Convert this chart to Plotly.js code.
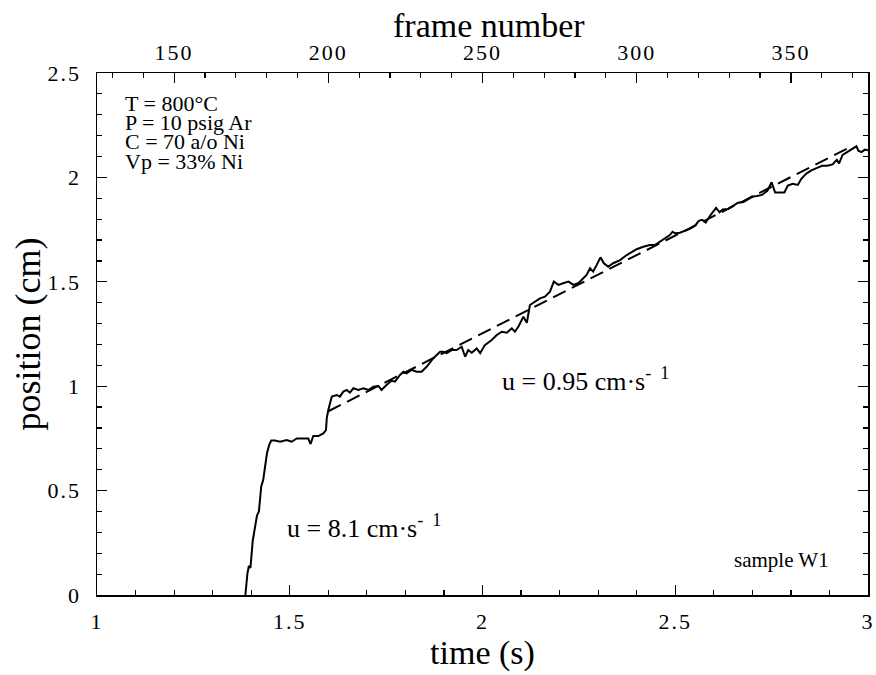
<!DOCTYPE html>
<html>
<head>
<meta charset="utf-8">
<script src="https://cdn.plot.ly/plotly-3.0.1.min.js"></script>
<style>
html,body{margin:0;padding:0;background:#fff;}
#chart{width:876px;height:675px;}
#chart .xtick text, #chart .x2tick text, #chart .ytick text{letter-spacing:2px;}
</style>
</head>
<body>
<div id="chart"></div>
<script>
// measured position vs time
const timeS = [1.385,1.390,1.394,1.398,1.404,1.410,1.415,1.420,1.426,1.431,1.436,1.441,1.447,1.452,1.462,
1.475,1.492,1.505,1.518,1.548,1.554,1.561,1.574,1.587,1.594,1.596,1.600,1.609,1.622,1.630,1.639,1.648,1.656,
1.665,1.678,1.691,1.704,1.717,1.730,1.738,1.751,1.764,1.773,1.786,1.795,1.803,1.816,1.829,1.842,1.855,1.872,
1.881,1.890,1.898,1.907,1.920,1.933,1.946,1.955,1.963,1.972,1.985,1.994,2.006,2.024,2.037,2.050,2.063,2.076,
2.084,2.093,2.106,2.115,2.123,2.136,2.149,2.162,2.175,2.185,2.197,2.209,2.223,2.236,2.248,2.257,2.270,2.279,
2.287,2.296,2.306,2.315,2.326,2.339,2.357,2.374,2.387,2.400,2.417,2.434,2.447,2.460,2.473,2.486,2.493,2.500,
2.512,2.526,2.539,2.552,2.561,2.570,2.579,2.592,2.606,2.615,2.623,2.637,2.650,2.663,2.677,2.690,2.699,2.712,
2.725,2.739,2.750,2.759,2.771,2.783,2.792,2.805,2.818,2.827,2.840,2.853,2.868,2.881,2.894,2.908,2.919,2.925,
2.934,2.948,2.961,2.970,2.975,2.983,2.992,3.000];
const positionCm = [0.00,0.10,0.14,0.13,0.26,0.33,0.38,0.40,0.52,0.55,0.63,0.68,0.72,0.74,0.74,
0.734,0.742,0.734,0.750,0.750,0.723,0.761,0.761,0.774,0.790,0.846,0.886,0.950,0.958,0.950,0.974,0.982,0.969,
0.990,0.982,0.990,0.982,0.998,1.001,0.982,1.006,1.026,1.022,1.054,1.069,1.062,1.078,1.069,1.069,1.093,1.133,
1.149,1.165,1.165,1.158,1.173,1.173,1.189,1.141,1.173,1.160,1.181,1.158,1.197,1.221,1.245,1.261,1.256,1.277,
1.261,1.285,1.333,1.304,1.389,1.405,1.421,1.429,1.453,1.501,1.485,1.493,1.501,1.485,1.493,1.509,1.533,1.565,
1.549,1.580,1.617,1.589,1.572,1.589,1.604,1.628,1.644,1.656,1.668,1.676,1.676,1.692,1.708,1.724,1.740,1.732,
1.735,1.745,1.755,1.770,1.792,1.797,1.784,1.821,1.854,1.833,1.846,1.849,1.865,1.879,1.882,1.895,1.907,1.911,
1.916,1.936,1.977,1.928,1.928,1.928,1.961,1.969,1.964,1.993,2.018,2.034,2.046,2.056,2.056,2.062,2.084,2.067,
2.108,2.125,2.141,2.149,2.128,2.121,2.133,2.130];
// linear fit (u = 0.95 cm/s)
const fitTime = [1.600, 2.950];
const fitPos = [0.880, 2.142];
// top axis: frame number (125 frames per second)
const frameRange = [125, 375];
const conditions = ["T = 800°C", "P = 10 psig Ar", "C = 70 a/o Ni", "Vp = 33% Ni"];

const serif = "Liberation Serif, Times New Roman, serif";
const traces = [
  {x: timeS, y: positionCm, mode: "lines", line: {color: "black", width: 2}},
  {x: fitTime, y: fitPos, mode: "lines", line: {color: "black", width: 2, dash: "14px,7px"}},
  {x: frameRange, y: [null, null], xaxis: "x2", mode: "lines"}
];

const condY = [2.356, 2.263, 2.170, 2.077];
const annotations = conditions.map((t, i) => ({
  x: 1.067, y: condY[i], xref: "x", yref: "y", text: t, showarrow: false,
  xanchor: "left", yanchor: "middle", font: {family: serif, size: 22, color: "black"}
}));
annotations.push({x: 1.488, y: 0.33, xref: "x", yref: "y", text: "u = 8.1 cm·s<sup>-  1</sup>", showarrow: false,
  xanchor: "left", yanchor: "middle", font: {family: serif, size: 26, color: "black"}});
annotations.push({x: 2.045, y: 1.03, xref: "x", yref: "y", text: "u = 0.95 cm·s<sup>-  1</sup>", showarrow: false,
  xanchor: "left", yanchor: "middle", font: {family: serif, size: 26, color: "black"}});
annotations.push({x: 2.647, y: 0.17, xref: "x", yref: "y", text: "sample W1", showarrow: false,
  xanchor: "left", yanchor: "middle", font: {family: serif, size: 21, color: "black"}});
annotations.push({x: 0.508, y: 1, xref: "paper", yref: "paper", text: "frame number", showarrow: false,
  xanchor: "center", yanchor: "middle", yshift: 48, font: {family: serif, size: 34, color: "black"}});

const layout = {
  width: 876, height: 675,
  margin: {l: 97, r: 8, t: 73, b: 80},
  paper_bgcolor: "white", plot_bgcolor: "white",
  font: {family: serif, color: "black"},
  showlegend: false,
  xaxis: {
    range: [1, 3], dtick: 0.5, tick0: 0, showgrid: false, zeroline: false,
    showline: true, linecolor: "black", linewidth: 1.5,
    ticks: "inside", ticklen: 10, tickwidth: 1.2, tickcolor: "black",
    minor: {dtick: 0.1, ticks: "inside", ticklen: 5, tickwidth: 1.2, tickcolor: "black"},
    tickfont: {family: serif, size: 22}, ticklabelstandoff: 6,
    title: {text: "time (s)", font: {family: serif, size: 34}, standoff: 2}
  },
  xaxis2: {
    overlaying: "x", side: "top", range: frameRange, dtick: 50, tick0: 0,
    showgrid: false, zeroline: false, showline: true, linecolor: "black", linewidth: 1.5,
    ticks: "inside", ticklen: 10, tickwidth: 1.2, tickcolor: "black",
    minor: {dtick: 10, ticks: "inside", ticklen: 5, tickwidth: 1.2, tickcolor: "black"},
    tickfont: {family: serif, size: 22}, ticklabelstandoff: 3
  },
  yaxis: {
    range: [0, 2.5], dtick: 0.5, tick0: 0, showgrid: false, zeroline: false,
    showline: true, linecolor: "black", linewidth: 1.5, mirror: "ticks",
    ticks: "inside", ticklen: 10, tickwidth: 1.2, tickcolor: "black",
    minor: {dtick: 0.1, ticks: "inside", ticklen: 5, tickwidth: 1.2, tickcolor: "black"},
    tickfont: {family: serif, size: 22}, ticklabelstandoff: 10,
    title: {text: "position (cm)", font: {family: serif, size: 36}, standoff: 2}
  },
  annotations: annotations
};

Plotly.newPlot("chart", traces, layout, {staticPlot: true, displayModeBar: false});
</script>
</body>
</html>
